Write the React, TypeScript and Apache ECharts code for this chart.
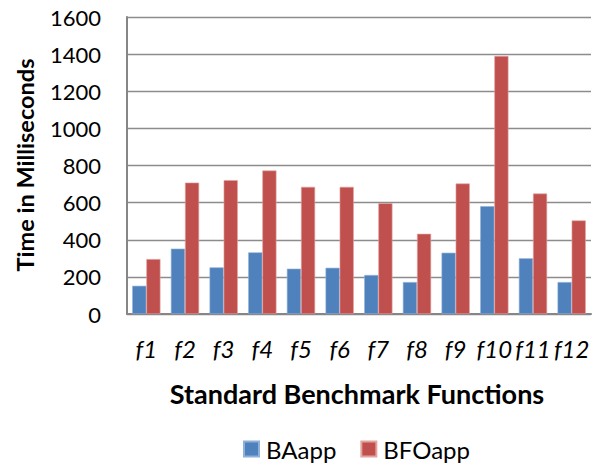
import React, { useEffect, useRef } from "react";
import * as echarts from "echarts";

const categories = ["f1", "f2", "f3", "f4", "f5", "f6", "f7", "f8", "f9", "f10", "f11", "f12"];
const baApp = [152, 352, 251, 332, 244, 249, 210, 172, 330, 581, 300, 172];
const bfoApp = [296, 708, 721, 773, 685, 685, 597, 432, 703, 1390, 649, 504];
const seriesNames = ["BAapp", "BFOapp"];
const yTitle = "Time in Milliseconds";
const xTitle = "Standard Benchmark Functions";

const FONT = "Lato, 'Noto Sans', sans-serif";

export default function App() {
  const ref = useRef<HTMLDivElement>(null);
  useEffect(() => {
    document.body.style.margin = "0";
    const chart = echarts.init(ref.current!, undefined, { renderer: "svg" });
    chart.setOption({
      animation: false,
      backgroundColor: "#ffffff",
      grid: { left: 127, right: 19, top: 17, bottom: 151, containLabel: false },
      legend: {
        data: seriesNames,
        top: 437,
        left: 243,
        itemWidth: 15,
        itemHeight: 15,
        itemGap: 24,
        icon: "rect",
        padding: 0,
        textStyle: { fontFamily: FONT, fontSize: 24, color: "#000", padding: [0, 0, 0, 2] },
      },
      xAxis: {
        type: "category",
        data: categories,
        axisLine: { lineStyle: { color: "#868686", width: 2 } },
        axisTick: { show: false },
        axisLabel: {
          fontFamily: FONT,
          fontStyle: "italic",
          fontSize: 24,
          color: "#000",
          margin: 22,
          interval: 0,
        },
      },
      yAxis: {
        type: "value",
        min: 0,
        max: 1600,
        interval: 200,
        axisLine: { show: true, lineStyle: { color: "#868686", width: 2 } },
        axisTick: { show: false },
        axisLabel: {
          fontFamily: FONT,
          fontSize: 22,
          color: "#000",
          margin: 26,
          formatter: (v: number) => String(v),
        },
        splitLine: { lineStyle: { color: "#8c8c8c", width: 1.3 } },
      },
      graphic: [
        {
          type: "text",
          x: 25,
          y: 165,
          rotation: Math.PI / 2,
          style: {
            text: yTitle,
            fontFamily: FONT,
            fontWeight: "bold",
            fontSize: 23.5,
            fill: "#000",
            align: "center",
            verticalAlign: "middle",
          },
        },
        {
          type: "text",
          x: 357,
          y: 393,
          style: {
            text: xTitle,
            fontFamily: FONT,
            fontWeight: "bold",
            fontSize: 27,
            fill: "#000",
            align: "center",
            verticalAlign: "middle",
          },
        },
      ],
      series: [
        {
          name: seriesNames[0],
          type: "bar",
          data: baApp,
          barGap: "0%",
          barCategoryGap: "27%",
          itemStyle: { color: "#4F81BD", borderColor: "#8fb0d8", borderWidth: 0.6 },
        },
        {
          name: seriesNames[1],
          type: "bar",
          data: bfoApp,
          barGap: "0%",
          barCategoryGap: "27%",
          itemStyle: { color: "#C0504D", borderColor: "#e3a3a1", borderWidth: 0.6 },
        },
      ],
    });
    return () => chart.dispose();
  }, []);
  return <div ref={ref} style={{ width: 610, height: 465 }} />;
}
